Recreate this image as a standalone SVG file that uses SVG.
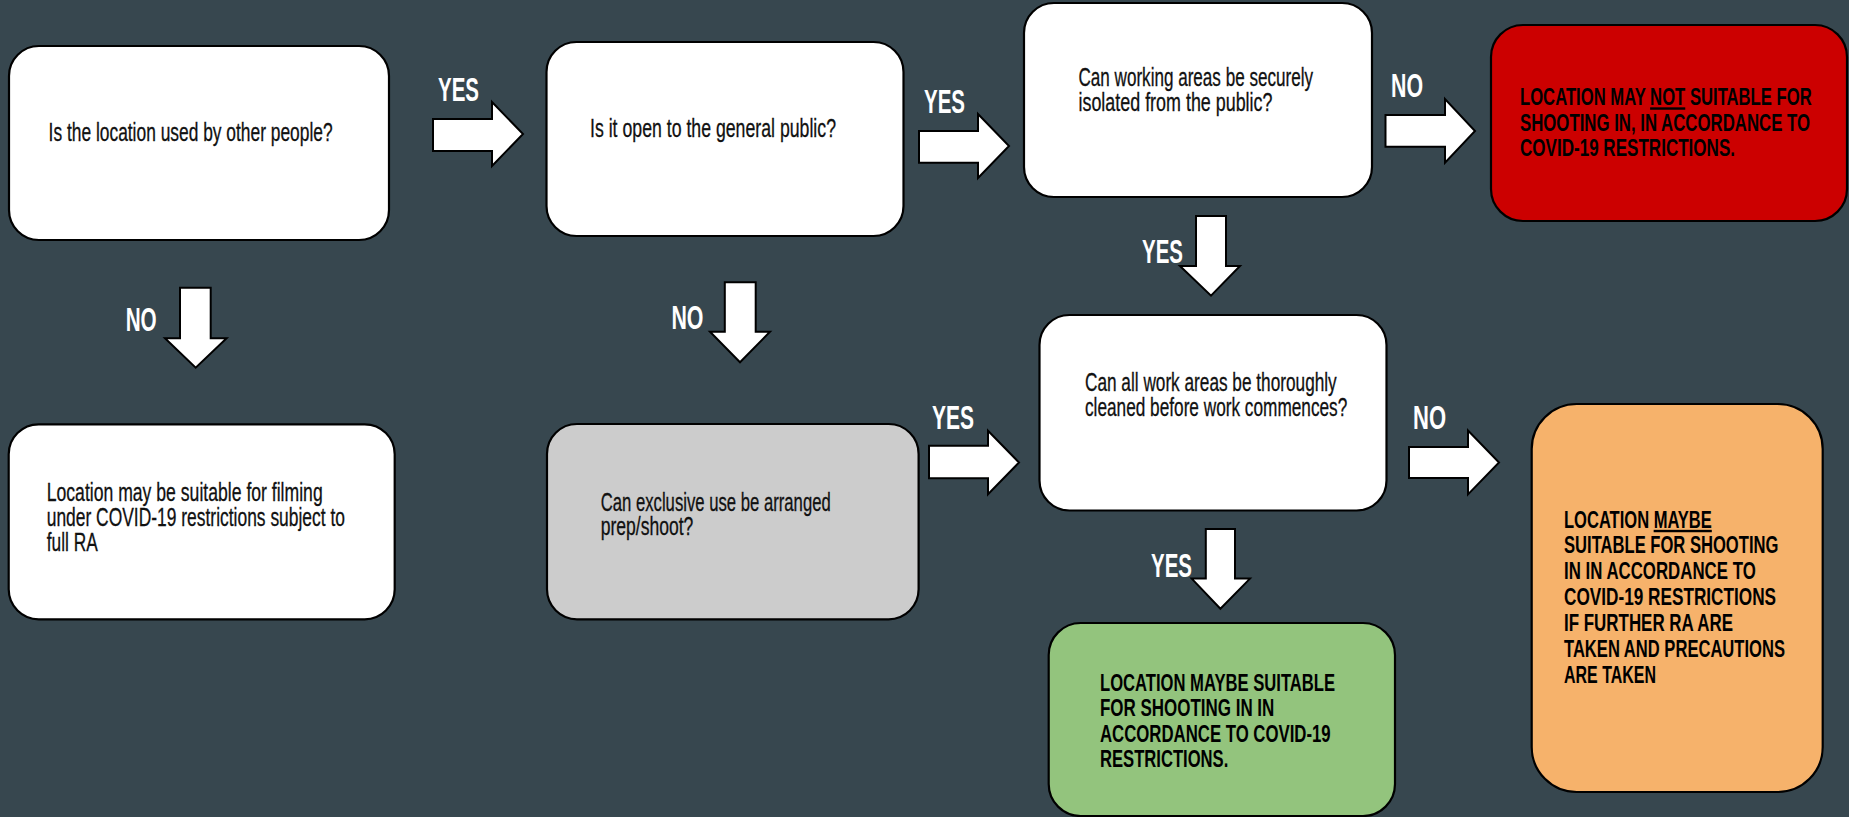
<svg xmlns="http://www.w3.org/2000/svg" width="1849" height="817" viewBox="0 0 1849 817">
<style>
.box{stroke:#000;stroke-width:2.2}
.q{font-family:"Liberation Sans",Arial,sans-serif;font-size:25px;fill:#111;stroke:#111;stroke-width:0.3}
.b{font-family:"Liberation Sans",Arial,sans-serif;font-size:24px;font-weight:bold;fill:#000}
.lbl{font-family:"Liberation Sans",Arial,sans-serif;font-size:33px;font-weight:bold;fill:#fff}
.arr{fill:#fff;stroke:#000;stroke-width:2;stroke-linejoin:miter}
</style>
<rect width="1849" height="817" fill="#37474f"/>

<g id="node-used-by-others">
<rect class="box" x="9" y="46" width="380" height="194" rx="30" fill="#fff"/>
<text class="q" transform="translate(48.6,141) scale(0.7,1)" textLength="405.7" lengthAdjust="spacingAndGlyphs">Is the location used by other people?</text>
</g>

<g id="node-open-public">
<rect class="box" x="546.5" y="42" width="357" height="194" rx="30" fill="#fff"/>
<text class="q" transform="translate(590,136.5) scale(0.7,1)" textLength="351.4" lengthAdjust="spacingAndGlyphs">Is it open to the general public?</text>
</g>

<g id="node-isolated">
<rect class="box" x="1024" y="3" width="348" height="194" rx="30" fill="#fff"/>
<text class="q" transform="translate(1078.5,86) scale(0.7,1)" textLength="335" lengthAdjust="spacingAndGlyphs">Can working areas be securely</text>
<text class="q" transform="translate(1078.5,111) scale(0.7,1)" textLength="277.1" lengthAdjust="spacingAndGlyphs">isolated from the public?</text>
</g>

<g id="node-not-suitable">
<rect class="box" x="1491" y="25" width="356" height="196" rx="32" fill="#cc0000"/>
<text class="b" transform="translate(1520,105) scale(0.685,1)" textLength="425.8" lengthAdjust="spacingAndGlyphs">LOCATION MAY <tspan text-decoration="underline">NOT</tspan> SUITABLE FOR</text>
<text class="b" transform="translate(1520,130.5) scale(0.685,1)" textLength="423.4" lengthAdjust="spacingAndGlyphs">SHOOTING IN, IN ACCORDANCE TO</text>
<text class="b" transform="translate(1520,156) scale(0.685,1)" textLength="313.9" lengthAdjust="spacingAndGlyphs">COVID-19 RESTRICTIONS.</text>
</g>

<g id="node-cleaned">
<rect class="box" x="1039.5" y="315" width="347" height="195.5" rx="30" fill="#fff"/>
<text class="q" transform="translate(1085,391) scale(0.7,1)" textLength="359.6" lengthAdjust="spacingAndGlyphs">Can all work areas be thoroughly</text>
<text class="q" transform="translate(1085,415.5) scale(0.7,1)" textLength="374.7" lengthAdjust="spacingAndGlyphs">cleaned before work commences?</text>
</g>

<g id="node-maybe-ra">
<rect class="box" x="1531.7" y="404" width="291" height="388" rx="45" fill="#f6b26b"/>
<text class="b" transform="translate(1564,527.5) scale(0.685,1)" textLength="215.8" lengthAdjust="spacingAndGlyphs">LOCATION <tspan text-decoration="underline">MAYBE</tspan></text>
<text class="b" transform="translate(1564,553.4) scale(0.685,1)" textLength="313" lengthAdjust="spacingAndGlyphs">SUITABLE FOR SHOOTING</text>
<text class="b" transform="translate(1564,579) scale(0.685,1)" textLength="279.9" lengthAdjust="spacingAndGlyphs">IN IN ACCORDANCE TO</text>
<text class="b" transform="translate(1564,604.6) scale(0.685,1)" textLength="309.5" lengthAdjust="spacingAndGlyphs">COVID-19 RESTRICTIONS</text>
<text class="b" transform="translate(1564,630.6) scale(0.685,1)" textLength="246.7" lengthAdjust="spacingAndGlyphs">IF FURTHER RA ARE</text>
<text class="b" transform="translate(1564,656.6) scale(0.685,1)" textLength="322.6" lengthAdjust="spacingAndGlyphs">TAKEN AND PRECAUTIONS</text>
<text class="b" transform="translate(1564,682.6) scale(0.685,1)" textLength="134.3" lengthAdjust="spacingAndGlyphs">ARE TAKEN</text>
</g>

<g id="node-maybe-suitable">
<rect class="box" x="1048.7" y="623" width="346.3" height="193" rx="32" fill="#93c47d"/>
<text class="b" transform="translate(1100,690.7) scale(0.685,1)" textLength="343.1" lengthAdjust="spacingAndGlyphs">LOCATION MAYBE SUITABLE</text>
<text class="b" transform="translate(1100,715.9) scale(0.685,1)" textLength="254.5" lengthAdjust="spacingAndGlyphs">FOR SHOOTING IN IN</text>
<text class="b" transform="translate(1100,741.7) scale(0.685,1)" textLength="336.8" lengthAdjust="spacingAndGlyphs">ACCORDANCE TO COVID-19</text>
<text class="b" transform="translate(1100,767.3) scale(0.685,1)" textLength="187.3" lengthAdjust="spacingAndGlyphs">RESTRICTIONS.</text>
</g>

<g id="node-exclusive-use">
<rect class="box" x="547" y="424" width="371.6" height="195.3" rx="30" fill="#cccccc"/>
<text class="q" transform="translate(600.7,511) scale(0.7,1)" textLength="328.6" lengthAdjust="spacingAndGlyphs">Can exclusive use be arranged</text>
<text class="q" transform="translate(600.7,535) scale(0.7,1)" textLength="132.3" lengthAdjust="spacingAndGlyphs">prep/shoot?</text>
</g>

<g id="node-may-be-suitable">
<rect class="box" x="8.7" y="424.3" width="386" height="195" rx="30" fill="#fff"/>
<text class="q" transform="translate(46.7,500.7) scale(0.7,1)" textLength="394.3" lengthAdjust="spacingAndGlyphs">Location may be suitable for filming</text>
<text class="q" transform="translate(46.7,525.9) scale(0.7,1)" textLength="426.1" lengthAdjust="spacingAndGlyphs">under COVID-19 restrictions subject to</text>
<text class="q" transform="translate(46.7,551.2) scale(0.7,1)" textLength="72.9" lengthAdjust="spacingAndGlyphs">full RA</text>
</g>

<g id="connectors">
<polygon class="arr" points="433,119 492,119 492,102 523,134 492,166 492,151 433,151"/>
<text class="lbl" transform="translate(438,101) scale(0.63,1)" textLength="65.1" lengthAdjust="spacingAndGlyphs">YES</text>

<polygon class="arr" points="919,131 978,131 978,114 1009,146 978,178 978,162.7 919,162.7"/>
<text class="lbl" transform="translate(924,113) scale(0.63,1)" textLength="65.1" lengthAdjust="spacingAndGlyphs">YES</text>

<polygon class="arr" points="1385.5,115 1445,115 1445,99 1475,131 1445,162.7 1445,146.7 1385.5,146.7"/>
<text class="lbl" transform="translate(1391,97) scale(0.63,1)" textLength="50.8" lengthAdjust="spacingAndGlyphs">NO</text>

<polygon class="arr" points="1196,216 1226,216 1226,266 1240,266 1211,295.7 1180,266 1196,266"/>
<text class="lbl" transform="translate(1142,263) scale(0.63,1)" textLength="65.1" lengthAdjust="spacingAndGlyphs">YES</text>

<polygon class="arr" points="180,287.7 210.7,287.7 210.7,338.3 226.6,338.3 195.7,367.7 165,338.3 180,338.3"/>
<text class="lbl" transform="translate(125.7,330.7) scale(0.63,1)" textLength="49.2" lengthAdjust="spacingAndGlyphs">NO</text>

<polygon class="arr" points="724.8,282.3 755.7,282.3 755.7,331.7 770,331.7 740,362.3 710,331.7 724.8,331.7"/>
<text class="lbl" transform="translate(671.4,329) scale(0.63,1)" textLength="50.8" lengthAdjust="spacingAndGlyphs">NO</text>

<polygon class="arr" points="929,445.7 988,445.7 988,430.7 1019,462.5 988,494.3 988,478.3 929,478.3"/>
<text class="lbl" transform="translate(932,429) scale(0.63,1)" textLength="66.7" lengthAdjust="spacingAndGlyphs">YES</text>

<polygon class="arr" points="1409,447 1468,447 1468,430.5 1499,462.5 1468,494.4 1468,478 1409,478"/>
<text class="lbl" transform="translate(1413,429) scale(0.63,1)" textLength="52.4" lengthAdjust="spacingAndGlyphs">NO</text>

<polygon class="arr" points="1205.8,528.9 1235,528.9 1235,578.6 1250,578.6 1220.4,608.8 1191.7,578.6 1205.8,578.6"/>
<text class="lbl" transform="translate(1151,577) scale(0.63,1)" textLength="65.1" lengthAdjust="spacingAndGlyphs">YES</text>
</g>
</svg>
